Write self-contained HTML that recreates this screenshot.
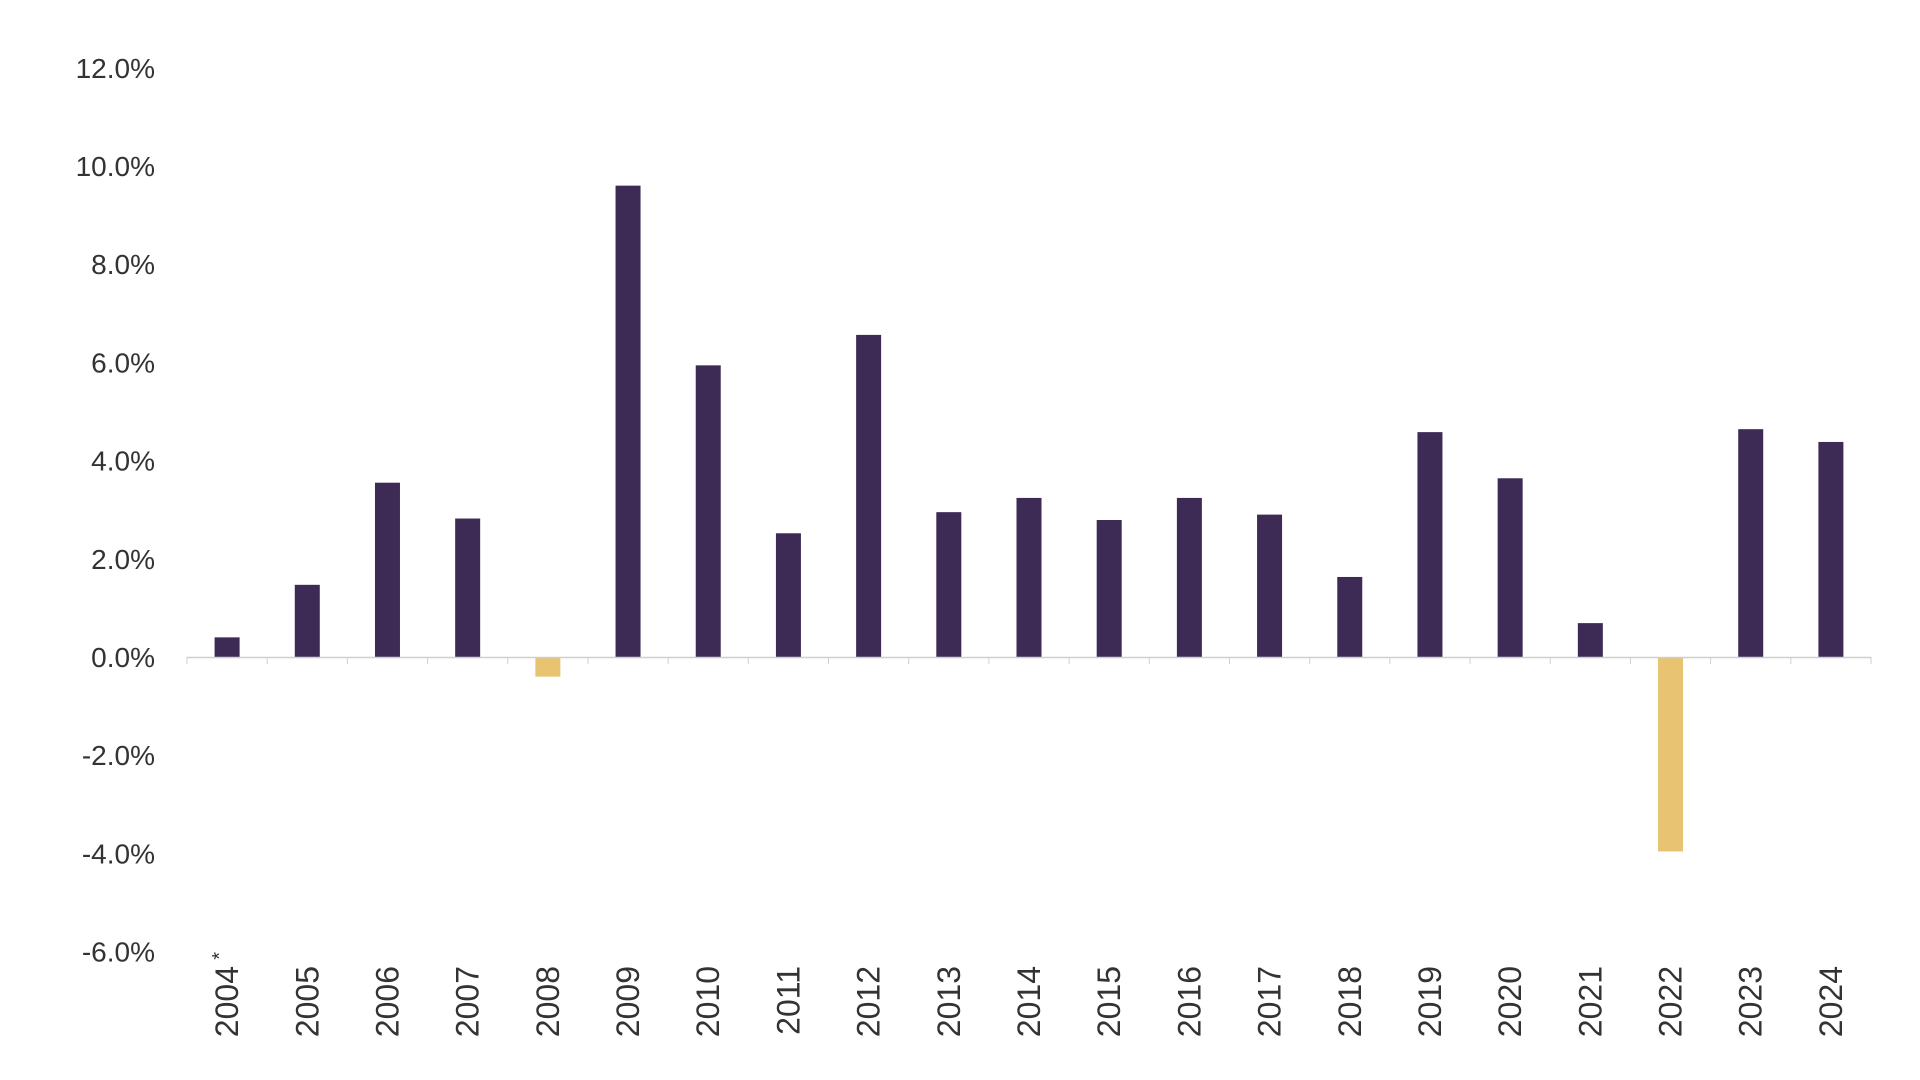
<!DOCTYPE html>
<html><head><meta charset="utf-8"><style>
html,body{margin:0;padding:0;background:#fff;}
svg{display:block;font-family:"Liberation Sans",sans-serif;}
</style></head><body>
<svg id="chart" width="1920" height="1080" viewBox="0 0 1920 1080" xmlns="http://www.w3.org/2000/svg"></svg>
<script>
const categories=["2004","2005","2006","2007","2008","2009","2010","2011","2012","2013","2014","2015","2016","2017","2018","2019","2020","2021","2022","2023","2024"];
const values=[0.4,1.47,3.55,2.82,-0.4,9.6,5.94,2.52,6.56,2.95,3.24,2.79,3.24,2.9,1.63,4.58,3.64,0.69,-3.96,4.64,4.38];
const yTicks=[12,10,8,6,4,2,0,-2,-4,-6];
const yTickLabels=["12.0%","10.0%","8.0%","6.0%","4.0%","2.0%","0.0%","-2.0%","-4.0%","-6.0%"];
const NS="http://www.w3.org/2000/svg";
const svg=document.getElementById('chart');
const x0=187,x1=1871,zeroY=657,pxPer=49.1;
const band=(x1-x0)/categories.length;
function yScale(v){return zeroY-v*pxPer;}
function xCenter(i){return x0+band*(i+0.5);}
function mk(tag,attrs){const e=document.createElementNS(NS,tag);for(const k in attrs)e.setAttribute(k,attrs[k]);svg.appendChild(e);return e;}
yTicks.forEach((t,i)=>{
  const e=mk('text',{x:155,y:yScale(t)+10,'text-anchor':'end','font-size':28,fill:'#333'});
  
  
  e.textContent=yTickLabels[i];
});
values.forEach((v,i)=>{
  const top=Math.min(yScale(v),zeroY),h=Math.abs(yScale(v)-zeroY);
  const r=mk('rect',{x:xCenter(i)-12.5,y:top,width:25,height:h,fill:v<0?'#e8c472':'#3d2b55'});
  
  
});
const ax=mk('line',{x1:x0,x2:x1,y1:zeroY+0.5,y2:zeroY+0.5,stroke:'#cfcfcf','stroke-width':1.5});


for(let i=0;i<=categories.length;i++){
  const tk=mk('line',{x1:x0+band*i,x2:x0+band*i,y1:zeroY,y2:zeroY+7,stroke:'#cfcfcf','stroke-width':1});
  
  
}
categories.forEach((c,i)=>{
  const cx=xCenter(i)+11;
  const e=mk('text',{'text-anchor':'end','font-size':32,fill:'#333',transform:'translate('+cx+',966) rotate(-90)'});
  
  
  e.textContent=c;
});
const star=mk('text',{'text-anchor':'end','font-size':20,fill:'#333',transform:'translate('+(xCenter(0)-1)+',952) rotate(-90)'});


star.textContent='*';
</script>
</body></html>
